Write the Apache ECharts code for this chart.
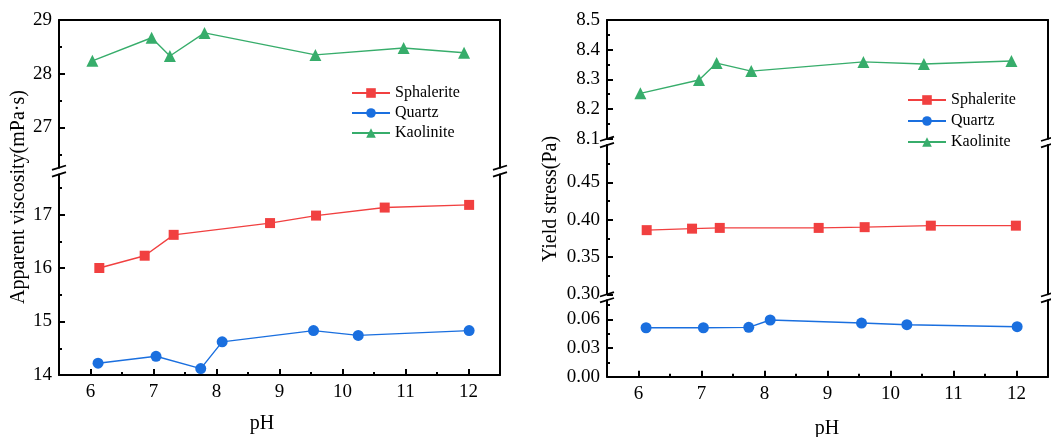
<!DOCTYPE html>
<html><head><meta charset="utf-8">
<script src="https://cdn.jsdelivr.net/npm/echarts@6/dist/echarts.min.js"></script>
<style>html,body{margin:0;padding:0;background:#fff}#c{width:1051px;height:437px}</style>
</head><body><div id="c"></div>
<script>
// ---------- data ----------
const seriesNames = ['Sphalerite', 'Quartz', 'Kaolinite'];
const xTicks = [6, 7, 8, 9, 10, 11, 12];
const xMinorTicks = [6.5, 7.5, 8.5, 9.5, 10.5, 11.5];

// Left panel: apparent viscosity (mPa·s)
const viscPhSphalerite = [6.14, 6.86, 7.32, 8.85, 9.58, 10.67, 12.01];
const viscSphalerite   = [16.00, 16.23, 16.62, 16.84, 16.98, 17.13, 17.18];
const viscPhQuartz     = [6.12, 7.04, 7.75, 8.09, 9.54, 10.25, 12.01];
const viscQuartz       = [14.22, 14.35, 14.12, 14.62, 14.83, 14.74, 14.83];
const viscPhKaolinite  = [6.03, 6.97, 7.26, 7.81, 9.57, 10.97, 11.93];
const viscKaolinite    = [28.24, 28.67, 28.33, 28.76, 28.35, 28.48, 28.39];
const viscTicksTop     = [27, 28, 29];
const viscMinorTop     = [26.5, 27.5, 28.5];
const viscTicksBottom  = [14, 15, 16, 17];
const viscMinorBottom  = [14.5, 15.5, 16.5, 17.5];

// Right panel: yield stress (Pa)
const stressPhSphalerite = [6.13, 6.85, 7.29, 8.86, 9.59, 10.64, 11.99];
const stressSphalerite   = [0.386, 0.388, 0.389, 0.389, 0.390, 0.392, 0.392];
const stressPhQuartz     = [6.12, 7.03, 7.75, 8.09, 9.54, 10.26, 12.01];
const stressQuartz       = [0.0512, 0.0512, 0.0516, 0.0593, 0.0561, 0.0544, 0.0523];
const stressPhKaolinite  = [6.03, 6.96, 7.24, 7.79, 9.57, 10.53, 11.92];
const stressKaolinite    = [8.253, 8.298, 8.355, 8.328, 8.359, 8.352, 8.362];
const stressTicksTop = [8.1, 8.2, 8.3, 8.4, 8.5];
const stressMinorTop = [8.15, 8.25, 8.35, 8.45];
const stressTicksMid = [0.30, 0.35, 0.40, 0.45];
const stressMinorMid = [0.325, 0.375, 0.425, 0.475];
const stressTicksBot = [0.00, 0.03, 0.06];
const stressMinorBot = [0.015, 0.045, 0.075];

// ---------- style ----------
const FONT = '"Liberation Serif","Times New Roman",serif';
const COLORS = { Sphalerite: '#F14040', Quartz: '#1A6FDF', Kaolinite: '#37AD6B' };
const SYMBOLS = { Sphalerite: 'rect', Quartz: 'circle', Kaolinite: 'triangle' };
const SYMSIZE = { Sphalerite: 10, Quartz: 11, Kaolinite: 12 };
const AXW = 2;

const grids = [], xAxes = [], yAxes = [], series = [], graphics = [];

function zip(a, b) { return a.map((v, i) => [v, b[i]]); }

function segment(left, width, top, bottom, ymin, ymax, majors, minors, dec, isTop, isBottom) {
  const gi = grids.length;
  grids.push({ left: left, top: top, width: width, height: bottom - top, containLabel: false, outerBoundsMode: 'none' });
  const xi = xAxes.length;
  xAxes.push({
    type: 'value', gridIndex: gi, min: 5.5, max: 12.5,
    position: isBottom ? 'bottom' : 'top', show: isTop || isBottom,
    axisLine: { show: true, onZero: false, lineStyle: { color: '#000', width: AXW } },
    axisTick: { show: isBottom, inside: true, length: 6, customValues: xTicks, lineStyle: { color: '#000', width: AXW } },
    axisLabel: { show: isBottom, customValues: xTicks, margin: 8, color: '#000', fontFamily: FONT, fontSize: 19 },
    splitLine: { show: false }
  });
  if (isBottom) {
    xAxes.push({
      type: 'value', gridIndex: gi, min: 5.5, max: 12.5, position: 'bottom',
      axisLine: { show: false, onZero: false },
      axisTick: { show: true, inside: true, length: 3, customValues: xMinorTicks, lineStyle: { color: '#000', width: AXW } },
      axisLabel: { show: false }, splitLine: { show: false }
    });
  }
  const yi = yAxes.length;
  yAxes.push({
    type: 'value', gridIndex: gi, min: ymin, max: ymax, position: 'left',
    axisLine: { show: true, onZero: false, lineStyle: { color: '#000', width: AXW } },
    axisTick: { show: true, inside: true, length: 6, customValues: majors, lineStyle: { color: '#000', width: AXW } },
    axisLabel: { show: true, customValues: majors, margin: 7, color: '#000', fontFamily: FONT, fontSize: 19,
      formatter: v => Number(v).toFixed(dec) },
    splitLine: { show: false }
  });
  yAxes.push({
    type: 'value', gridIndex: gi, min: ymin, max: ymax, position: 'left',
    axisLine: { show: false, onZero: false },
    axisTick: { show: true, inside: true, length: 3, customValues: minors, lineStyle: { color: '#000', width: AXW } },
    axisLabel: { show: false }, splitLine: { show: false }
  });
  yAxes.push({
    type: 'value', gridIndex: gi, min: ymin, max: ymax, position: 'right',
    axisLine: { show: true, onZero: false, lineStyle: { color: '#000', width: AXW } },
    axisTick: { show: false }, axisLabel: { show: false }, splitLine: { show: false }
  });
  return { xi: xi, yi: yi, top: top, bottom: bottom };
}

function addSeries(name, seg, xs, ys) {
  series.push({
    type: 'line', name: name, xAxisIndex: seg.xi, yAxisIndex: seg.yi,
    data: zip(xs, ys), symbol: SYMBOLS[name], symbolSize: SYMSIZE[name],
    showSymbol: true, color: COLORS[name],
    lineStyle: { width: 1.4, color: COLORS[name] },
    itemStyle: { color: COLORS[name] }, z: 5, animation: false
  });
}

function breakMarks(x, yList) {
  yList.forEach(y => {
    graphics.push({ type: 'line', z: 100, shape: { x1: x - 7, y1: y + 2.2, x2: x + 7, y2: y - 2.2 },
      style: { stroke: '#000', lineWidth: 1.8 } });
  });
}

// ---------- left panel ----------
const L = { left: 59, width: 441 };
const L0 = segment(L.left, L.width, 20, 167.7, 26.25, 29, viscTicksTop, viscMinorTop, 0, true, false);
const L1 = segment(L.left, L.width, 174.4, 375, 14, 17.75, viscTicksBottom, viscMinorBottom, 0, false, true);
addSeries('Sphalerite', L1, viscPhSphalerite, viscSphalerite);
addSeries('Quartz', L1, viscPhQuartz, viscQuartz);
addSeries('Kaolinite', L0, viscPhKaolinite, viscKaolinite);
breakMarks(L.left, [L0.bottom, L1.top]);
breakMarks(L.left + L.width, [L0.bottom, L1.top]);

// ---------- right panel ----------
const R = { left: 607, width: 441 };
const R0 = segment(R.left, R.width, 20, 138.8, 8.1, 8.5, stressTicksTop, stressMinorTop, 1, true, false);
const R1 = segment(R.left, R.width, 145.1, 294.3, 0.30, 0.50, stressTicksMid, stressMinorMid, 2, false, false);
const R2 = segment(R.left, R.width, 300.2, 376.7, 0, 0.08, stressTicksBot, stressMinorBot, 2, false, true);
addSeries('Sphalerite', R1, stressPhSphalerite, stressSphalerite);
addSeries('Quartz', R2, stressPhQuartz, stressQuartz);
addSeries('Kaolinite', R0, stressPhKaolinite, stressKaolinite);
breakMarks(R.left, [R0.bottom, R1.top, R1.bottom, R2.top]);
breakMarks(R.left + R.width, [R0.bottom, R1.top, R1.bottom, R2.top]);

// ---------- axis titles ----------
const titleStyle = { fill: '#000', font: '20px ' + FONT, textAlign: 'center', textVerticalAlign: 'middle' };
graphics.push({ type: 'text', x: 18.5, y: 197, rotation: Math.PI / 2, style: Object.assign({ text: 'Apparent viscosity(mPa·s)' }, titleStyle) });
graphics.push({ type: 'text', x: 551, y: 199, rotation: Math.PI / 2, style: Object.assign({ text: 'Yield stress(Pa)' }, titleStyle) });
graphics.push({ type: 'text', x: 262, y: 424, style: Object.assign({ text: 'pH' }, titleStyle) });
graphics.push({ type: 'text', x: 827, y: 429, style: Object.assign({ text: 'pH' }, titleStyle) });

const legendCommon = {
  orient: 'vertical', data: seriesNames, itemWidth: 38, itemHeight: 12, padding: 0,
  textStyle: { fontFamily: FONT, fontSize: 16, color: '#000', padding: [0, 0, 0, 0] },
  selectedMode: false
};

const chart = echarts.init(document.getElementById('c'), null, { renderer: 'canvas' });
chart.setOption({
  animation: false,
  backgroundColor: '#fff',
  grid: grids, xAxis: xAxes, yAxis: yAxes, series: series,
  legend: [
    Object.assign({ left: 351, top: 85, itemGap: 4 }, legendCommon),
    Object.assign({ left: 907, top: 92, itemGap: 5 }, legendCommon)
  ],
  graphic: graphics
});
</script></body></html>
